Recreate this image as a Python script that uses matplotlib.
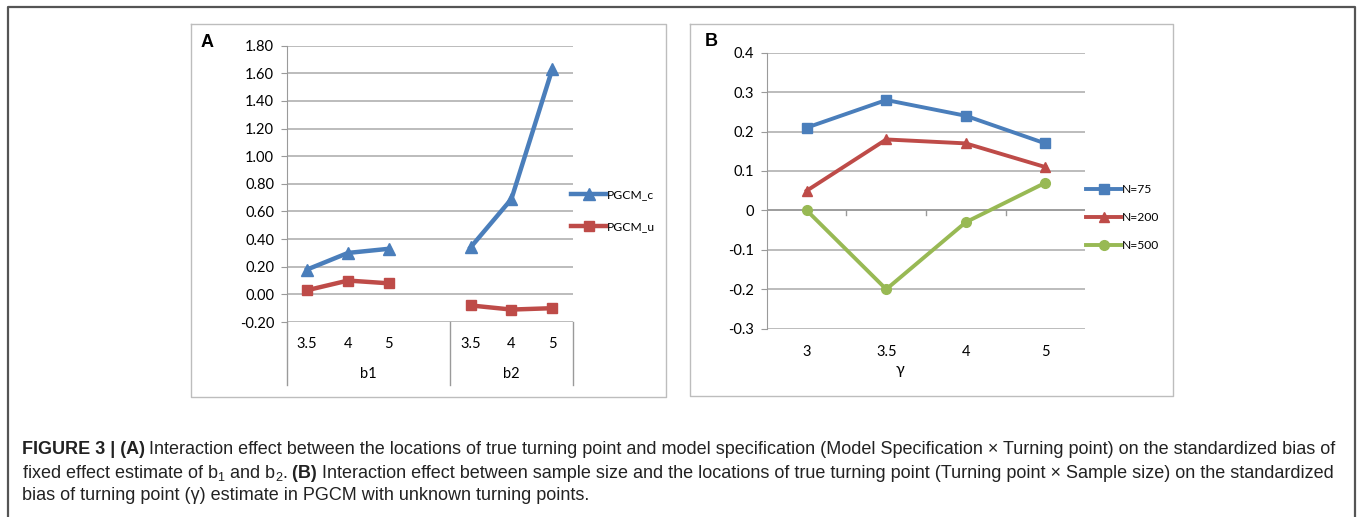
import matplotlib.pyplot as plt
from matplotlib.lines import Line2D
import numpy as np

# ---- data: panel A (multi-level category axis, gap between groups)
a_groups = ['b1', 'b2']
a_ticks = ['3.5', '4', '5']
pgcm_c = [0.18, 0.30, 0.33, np.nan, 0.34, 0.69, 1.63]
pgcm_u = [0.03, 0.10, 0.08, np.nan, -0.08, -0.11, -0.10]
a_yticks = [-0.2, 0.0, 0.2, 0.4, 0.6, 0.8, 1.0, 1.2, 1.4, 1.6, 1.8]

# ---- data: panel B
b_cats = ['3', '3.5', '4', '5']
n75 = [0.21, 0.28, 0.24, 0.17]
n200 = [0.05, 0.18, 0.17, 0.11]
n500 = [0.00, -0.20, -0.03, 0.07]
b_yticks = [-0.3, -0.2, -0.1, 0.0, 0.1, 0.2, 0.3, 0.4]

BLUE = '#4a7ebb'
RED = '#be4b48'
GREEN = '#98b954'
GRID = '#b0b0b0'
AXC = '#9a9a9a'

W, H = 1357, 517
fig = plt.figure(figsize=(W / 100, H / 100), dpi=100)
plt.rcParams['font.family'] = ['Lato', 'DejaVu Sans']
plt.rcParams['mathtext.default'] = 'regular'


def box(x0, y0, x1, y1):
    # pixel box -> figure fraction [l, b, w, h]
    return [x0 / W, 1 - y1 / H, (x1 - x0) / W, (y1 - y0) / H]


def fline(xs, ys, color, lw):
    fig.add_artist(Line2D([x / W for x in xs], [1 - y / H for y in ys],
                          color=color, lw=lw, transform=fig.transFigure))


# frames
fline([8, 8, 1355, 1355], [517, 6.5, 6.5, 517], '#555555', 1.6)
fline([191, 191, 666, 666, 191], [24, 397, 397, 24, 24], '#bdbdbd', 1.0)
fline([690, 690, 1173, 1173, 690], [24, 396, 396, 24, 24], '#bdbdbd', 1.0)


def style_y(ax, fmt):
    ax.set_yticklabels([fmt.format(v) for v in ax.get_yticks()], fontsize=10.5)
    ax.yaxis.grid(True, color=GRID, lw=1.2)
    ax.set_axisbelow(True)
    for s in ['top', 'right', 'bottom']:
        ax.spines[s].set_visible(False)
    ax.spines['left'].set_color(AXC)
    ax.tick_params(axis='y', length=4, color=AXC, pad=5)


# ---- panel A
axA = fig.add_axes(box(286.7, 45.7, 572.7, 322))
xA = np.arange(len(pgcm_c))
axA.plot(xA, pgcm_c, color=BLUE, lw=3.2, marker='^', ms=8.5, label='PGCM_c')
axA.plot(xA, pgcm_u, color=RED, lw=3.2, marker='s', ms=7.5, label='PGCM_u')
axA.set_xlim(-0.5, 6.5)
axA.set_ylim(-0.2, 1.8)
axA.set_yticks(a_yticks)
style_y(axA, '{:.2f}')
axA.set_xticks([0, 1, 2, 4, 5, 6])
axA.set_xticklabels(a_ticks * 2, fontsize=10.5)
axA.tick_params(axis='x', length=0, pad=11)
ext = (385 - 322) / (322 - 45.7)
xt = axA.get_xaxis_transform()
for xv in [-0.5, 3.5, 6.5]:
    axA.plot([xv, xv], [0, -ext], color=AXC, lw=1.0, transform=xt, clip_on=False)
for g, xc in zip(a_groups, [1.5, 5.0]):
    axA.text(xc, -(374 - 322) / (322 - 45.7), g, transform=xt, ha='center',
             va='center', fontsize=10.5)
axA.legend(loc='center left', bbox_to_anchor=(571 / W, 1 - 210.5 / H),
           bbox_transform=fig.transFigure, frameon=False, fontsize=8.7,
           handlelength=2.9, handletextpad=0.1, labelspacing=1.7,
           borderpad=0, borderaxespad=0)
fig.text(207 / W, 1 - 42.5 / H, 'A', fontsize=13, fontweight='bold',
         family='Liberation Sans', ha='center', va='center')

# ---- panel B
axB = fig.add_axes(box(767, 52.7, 1085, 328.7))
xB = np.arange(len(b_cats))
axB.plot(xB, n75, color=BLUE, lw=2.8, marker='s', ms=7.5, label='N=75')
axB.plot(xB, n200, color=RED, lw=2.8, marker='^', ms=7, label='N=200')
axB.plot(xB, n500, color=GREEN, lw=2.8, marker='o', ms=7, label='N=500')
axB.set_xlim(-0.5, 3.5)
axB.set_ylim(-0.3, 0.4)
axB.set_yticks(b_yticks)
style_y(axB, '{:g}')
axB.set_xticks(xB)
axB.set_xticklabels(b_cats, fontsize=10.5)
axB.tick_params(axis='x', length=0, pad=12)
# category axis crosses at 0 with tick marks between categories
axB.axhline(0, color=AXC, lw=1.2, zorder=1)
for xv in [0.5, 1.5, 2.5]:
    axB.plot([xv, xv], [0, -0.011], color=AXC, lw=1.0, zorder=1)
gx = (900 - 767) / (1085 - 767) * 4 - 0.5
axB.text(gx, 1 - (370 - 52.7) / (328.7 - 52.7), 'γ', fontsize=11.5,
         transform=axB.get_xaxis_transform(), ha='center', va='center')
axB.legend(loc='center left', bbox_to_anchor=(1086 / W, 1 - 217.5 / H),
           bbox_transform=fig.transFigure, frameon=False, fontsize=8.7,
           handlelength=2.9, handletextpad=0.1, labelspacing=1.4,
           borderpad=0, borderaxespad=0)
fig.text(711.5 / W, 1 - 41.5 / H, 'B', fontsize=13, fontweight='bold',
         family='Liberation Sans', ha='center', va='center')

# ---- caption with mixed bold/regular runs
cap_lines = [
    [('FIGURE 3 | (A)', 'bold'),
     (' Interaction effect between the locations of true turning point and model '
      'specification (Model Specification \u00d7 Turning point) on the standardized bias of', 'normal')],
    [('fixed effect estimate of $b_1$ and $b_2$.', 'normal'), (' (B)', 'bold'),
     (' Interaction effect between sample size and the locations of true turning point '
      '(Turning point \u00d7 Sample size) on the standardized', 'normal')],
    [('bias of turning point (\u03b3) estimate in PGCM with unknown turning points.', 'normal')],
]
cap_base = [454.5, 478, 500.5]
fig.canvas.draw()
renderer = fig.canvas.get_renderer()
for runs, yy in zip(cap_lines, cap_base):
    x = 21.5
    for txt, wt in runs:
        t = fig.text(x / W, 1 - yy / H, txt, fontsize=13, fontweight=wt,
                     family=['Liberation Sans', 'DejaVu Sans'], color='#222222',
                     va='baseline', ha='left')
        x += t.get_window_extent(renderer).width

fig.savefig('out.png', dpi=100)
